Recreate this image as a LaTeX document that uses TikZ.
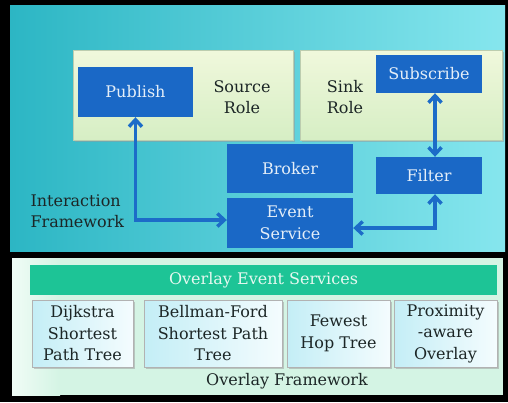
\documentclass[tikz,border=0pt]{standalone}
\usepackage{fontspec}
\setmainfont{DejaVu Serif}
\usetikzlibrary{arrows.meta,shadows}
\definecolor{panelL}{HTML}{2CB6C4}
\definecolor{panelR}{HTML}{86E6EE}
\definecolor{roleA}{HTML}{F0F8DC}
\definecolor{roleB}{HTML}{D6EEC4}
\definecolor{bluebox}{HTML}{1A68C6}
\definecolor{bluetxt}{HTML}{E4EEF8}
\definecolor{arrowblue}{HTML}{1C6CC8}
\definecolor{mint}{HTML}{D4F4E4}
\definecolor{mintL}{HTML}{F0FCF6}
\definecolor{teal}{HTML}{1DC496}
\definecolor{tealtxt}{HTML}{E6F8F0}
\definecolor{subA}{HTML}{F4FCFE}
\definecolor{subB}{HTML}{C4EEF6}
\definecolor{darktxt}{HTML}{1C2626}
\tikzset{
  fnt/.style={font=\fontsize{16}{21.5}\selectfont},
  txt/.style={fnt, text=darktxt, align=center},
  rolebox/.style={draw=roleB!70!gray, line width=0.6pt, top color=roleA, bottom color=roleB,
    drop shadow={shadow xshift=2pt, shadow yshift=-2pt, fill=black!40, opacity=0.5}, inner sep=0pt},
  bluebx/.style={fill=bluebox, inner sep=0pt, fnt, text=bluetxt, align=center},
  subbx/.style={draw=gray!60, line width=0.6pt, left color=subB, right color=subA, inner sep=0pt,
    drop shadow={shadow xshift=1.5pt, shadow yshift=-1.5pt, fill=black!40, opacity=0.5},
    fnt, text=darktxt, align=center},
  arr/.style={draw=arrowblue, line width=3.4pt, {Straight Barb[length=7pt,width=13pt]}-{Straight Barb[length=7pt,width=13pt]}}
}
\begin{document}
\begin{tikzpicture}[x=1pt,y=-1pt]
\fill[black] (0,0) rectangle (508,402);
\useasboundingbox (0,0) rectangle (508,402);
% top panel
\shade[left color=panelL, right color=panelR] (10,5) rectangle (505,251);
\node[rolebox, minimum width=220pt, minimum height=90pt] (src) at (183,95) {};
\node[rolebox, minimum width=202pt, minimum height=90pt] (sink) at (401,95) {};
\node[txt] (srct) at (242,97) {Source\\Role};
\node[txt] (sinkt) at (345,97) {Sink\\Role};
\node[bluebx, minimum width=115pt, minimum height=50pt] (pub) at (135.5,92) {Publish};
\node[bluebx, minimum width=106pt, minimum height=38pt] (sub) at (429,74) {Subscribe};
\node[bluebx, minimum width=126pt, minimum height=49pt] (brk) at (290,168.5) {Broker};
\node[bluebx, minimum width=126pt, minimum height=50pt] (ev) at (290,223) {Event\\Service};
\node[bluebx, minimum width=106pt, minimum height=37pt] (filt) at (429,175.5) {Filter};
\node[txt, align=left, anchor=west] (ifw) at (27,211) {Interaction\\Framework};
\draw[arr] (pub.south) |- ([yshift=3pt]ev.west);
\draw[arr] ([xshift=6pt]filt.south) |- ([yshift=-5pt]ev.east);
\draw[arr] ([xshift=6pt]sub.south) -- ([xshift=6pt]filt.north);
% bottom panel
\fill[mint] (12,258) rectangle (503,395);
\shade[left color=mintL, right color=mint] (12,258) rectangle (60,395);
\node[fill=teal, minimum width=467pt, minimum height=30pt, inner sep=0pt,
  fnt, text=tealtxt] (oes) at (263.5,280) {Overlay Event Services};
\node[subbx, minimum width=101pt, minimum height=67pt] (dij) at (82.5,333.5) {Dijkstra\\Shortest\\Path Tree};
\node[subbx, minimum width=138pt, minimum height=67pt] (bf) at (213,333.5) {Bellman-Ford\\Shortest Path\\Tree};
\node[subbx, minimum width=103pt, minimum height=67pt] (few) at (338.5,333.5) {Fewest\\Hop Tree};
\node[subbx, minimum width=103pt, minimum height=67pt] (prox) at (445.5,333.5) {Proximity\\-aware\\Overlay};
\node[txt] (ofw) at (287,381) {Overlay Framework};
\end{tikzpicture}
\end{document}
